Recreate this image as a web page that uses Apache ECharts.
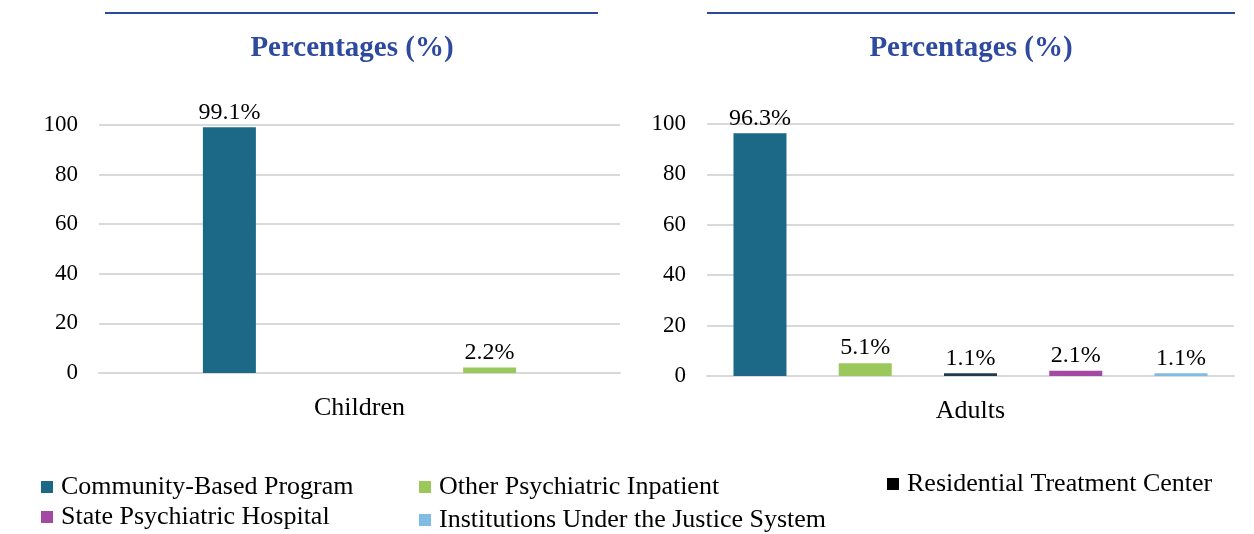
<!DOCTYPE html>
<html>
<head>
<meta charset="utf-8">
<script src="https://cdn.jsdelivr.net/npm/echarts@6/dist/echarts.min.js"></script>
<style>
  html, body { margin: 0; padding: 0; background: #fff; }
  #chart { width: 1254px; height: 534px; }
</style>
</head>
<body>
<div id="chart"></div>
<script>
// data
const seriesNames = [
  "Community-Based Program",
  "Other Psychiatric Inpatient",
  "Residential Treatment Center",
  "State Psychiatric Hospital",
  "Institutions Under the Justice System",
];
const seriesColors = ["#1B6987", "#9BC85A", "#1F3B4D", "#A349A4", "#80BBE4"];
const childrenSeries = [0, 1];            // series shown for children
const childrenValues = [99.1, 2.2];
const adultValues = [96.3, 5.1, 1.1, 2.1, 1.1];
const panelTitle = "Percentages (%)";
const yMin = 0, yMax = 100, yStep = 20;

const FONT = "'Liberation Serif', 'Times New Roman', serif";
const GRID_COLOR = "#D9D9D9";
const BLUE = "#2E4A9E";

const chart = echarts.init(document.getElementById("chart"));

const yAxisCfg = (gridIndex) => ({
  gridIndex,
  type: "value",
  min: yMin,
  max: yMax,
  interval: yStep,
  axisLine: { show: false },
  axisTick: { show: false },
  splitLine: { lineStyle: { color: GRID_COLOR, width: 2 } },
  axisLabel: { color: "#000", fontSize: 23, fontFamily: FONT, margin: 21 },
});

const xAxisCfg = (gridIndex, name, margin) => ({
  gridIndex,
  type: "category",
  data: [name],
  axisTick: { show: false },
  axisLine: { lineStyle: { color: GRID_COLOR, width: 2 } },
  axisLabel: { color: "#000", fontSize: 26, fontFamily: FONT, margin },
});

const barLabel = {
  show: true,
  position: "top",
  distance: 3,
  color: "#000",
  fontSize: 24,
  fontFamily: FONT,
  formatter: (p) => p.value.toFixed(1) + "%",
};

const series = [];
childrenSeries.forEach((si, i) => {
  series.push({
    name: seriesNames[si],
    type: "bar",
    xAxisIndex: 0,
    yAxisIndex: 0,
    barWidth: 53,
    barGap: "391%",
    itemStyle: { color: seriesColors[si] },
    label: barLabel,
    data: [childrenValues[i]],
  });
});
adultValues.forEach((v, si) => {
  series.push({
    name: seriesNames[si],
    type: "bar",
    xAxisIndex: 1,
    yAxisIndex: 1,
    barWidth: 53,
    barGap: "98.6%",
    itemStyle: { color: seriesColors[si] },
    label: barLabel,
    data: [v],
  });
});

// one legend per entry so the items sit where the original put them
const legendPos = [
  { left: 41, top: 474 },
  { left: 419, top: 474 },
  { left: 887, top: 471 },
  { left: 41, top: 504 },
  { left: 419, top: 507 },
];
const legends = seriesNames.map((name, i) => ({
  data: [{ name, itemStyle: { color: i === 2 ? "#000" : seriesColors[i] } }],
  left: legendPos[i].left,
  top: legendPos[i].top,
  padding: 0,
  icon: "rect",
  itemWidth: 12,
  itemHeight: 12,
  selectedMode: false,
  textStyle: { color: "#000", fontSize: 26, fontFamily: FONT, padding: [0, 0, 0, 3] },
}));

chart.setOption({
  animation: false,
  title: [
    { text: panelTitle, left: 352, top: 34, textAlign: "center", padding: 0,
      textStyle: { color: BLUE, fontSize: 29, fontWeight: "bold", fontFamily: FONT } },
    { text: panelTitle, left: 971, top: 34, textAlign: "center", padding: 0,
      textStyle: { color: BLUE, fontSize: 29, fontWeight: "bold", fontFamily: FONT } },
  ],
  graphic: [
    { type: "line", shape: { x1: 105, y1: 13, x2: 598, y2: 13 }, style: { stroke: BLUE, lineWidth: 2 } },
    { type: "line", shape: { x1: 707, y1: 13, x2: 1235, y2: 13 }, style: { stroke: BLUE, lineWidth: 2 } },
  ],
  legend: legends,
  grid: [
    { left: 99, width: 521, top: 125, height: 248 },
    { left: 707, width: 527, top: 124, height: 252 },
  ],
  xAxis: [xAxisCfg(0, "Children", 22), xAxisCfg(1, "Adults", 22)],
  yAxis: [yAxisCfg(0), yAxisCfg(1)],
  series,
});
</script>
</body>
</html>
